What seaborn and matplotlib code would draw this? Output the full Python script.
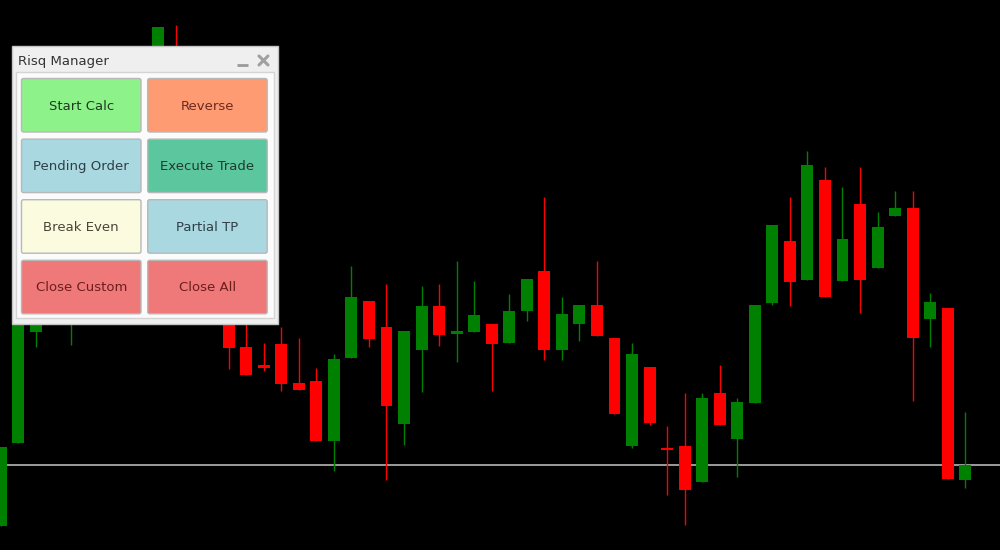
import numpy as np
import pandas as pd
import seaborn as sns
import matplotlib.pyplot as plt
from matplotlib.patches import Rectangle, FancyBboxPatch

# .:: Candle data (chart points; bars 3-12 sit under the panel) ::.
opens = [24, 107, 218, 265, 240, 262, 245, 290, 330, 380,
         500, 420, 360, 290, 203, 185, 206, 167.5, 169, 109,
         192, 249, 223, 126, 200, 244, 216, 218.4, 226, 207.5,
         239.5, 279, 200, 226, 245, 212.5, 104, 183, 101.6, 104,
         68, 157, 111, 147, 247, 309, 270, 370, 269, 346.5,
         282, 334, 342, 231, 242, 70]
highs = [103, 270, 265, 275, 280, 275, 300, 345, 350, 523,
         525, 440, 372, 300, 235, 207, 223, 212.5, 182, 196,
         284, 249, 266.5, 219.5, 264, 266.5, 288.6, 269, 226, 256,
         271, 353, 253, 245, 288.6, 212.5, 207, 183, 123.7, 157,
         157, 185, 152.5, 245, 325, 353, 399, 383, 363, 383,
         338, 359, 359, 257, 242, 138]
lows = [24, 107, 203, 232, 205, 238, 240, 282, 300, 370,
        410, 350, 290, 181, 175, 179, 159, 160, 109, 79,
        192, 203, 70, 105, 158, 204, 188, 218, 159, 207.5,
        229, 190, 190, 209, 214, 136, 102, 125, 54.6, 25,
        68, 125, 73, 147, 245, 244, 270, 253, 269, 237,
        282, 334, 149, 203, 71, 62]
closes = [103, 260, 255, 240, 262, 245, 290, 330, 310, 523,
          420, 360, 300, 202, 175, 182, 166, 160, 109, 191,
          253.5, 211, 144, 219.5, 244, 215, 219.5, 235, 206, 239,
          271, 200, 236, 245, 214, 136, 195.6, 127, 99.8, 60,
          152.5, 125, 148, 245, 325, 268, 385, 253, 311, 270,
          322.6, 342, 212.5, 248, 71, 85]

# .:: Risk manager panel contents ::.
panel_title = "Risq Manager"
button_labels = ["Start Calc", "Reverse", "Pending Order", "Execute Trade",
                 "Break Even", "Partial TP", "Close Custom", "Close All"]
button_colors = ["#8ef28a", "#ff9b72", "#a9d8e1", "#5cc79e",
                 "#fbfbe0", "#a9d8e1", "#ef7878", "#ef7878"]
button_text_colors = ["#1f3a1f", "#6b2a20", "#2f3e44", "#1f3a31",
                      "#4a4438", "#2f3e44", "#6b1e1e", "#6b1e1e"]

sns.set_theme(style="dark", rc={"axes.facecolor": "black", "figure.facecolor": "black"})
plt.rcParams["font.family"] = ["DejaVu Sans"]

df = pd.DataFrame({"open": opens, "high": highs, "low": lows, "close": closes})
df["bar"] = np.arange(len(df))
df["color"] = np.where(df["close"] >= df["open"], "#008000", "#ff0000")
df["body_low"] = df[["open", "close"]].min(axis=1)
df["body_h"] = (df["close"] - df["open"]).abs().clip(lower=2)

fig = plt.figure(figsize=(10, 5.5), dpi=100)
ax = fig.add_axes([0, 0, 1, 1])

# .:: Price line + candles ::.
ax.axhline(closes[-1], color="#9c9c9c", lw=1.4, zorder=1)
ax.vlines(df["bar"], df["low"], df["high"], colors=df["color"], lw=1, zorder=2)
ax.bar(df["bar"], df["body_h"], bottom=df["body_low"], width=0.68,
       color=df["color"], linewidth=0, zorder=3)
ax.set_xlim(-0.034, 56.98)
ax.set_ylim(0, 550)
ax.axis("off")

# .:: Panel overlay (pixel coords) ::.
ui = fig.add_axes([0, 0, 1, 1], zorder=5)
ui.set_xlim(0, 1000)
ui.set_ylim(550, 0)
ui.axis("off")
ui.patch.set_alpha(0)

ui.add_patch(Rectangle((11.5, 45.5), 266, 278, fc="#efefef", ec="#c4c4c4", lw=1))
ui.add_patch(Rectangle((15.5, 72), 258, 246, fc="#fbfbfb", ec="#d4d4d4", lw=1))
ui.text(18, 61, panel_title, fontsize=9.5, color="#333333", va="center", ha="left")
ui.plot([237, 248], [65, 65], color="#9a9a9a", lw=2, solid_capstyle="butt")
ui.plot([259, 268], [56, 65], color="#a0a0a0", lw=2.2)
ui.plot([259, 268], [65, 56], color="#a0a0a0", lw=2.2)

for i, (label, fc, tc) in enumerate(zip(button_labels, button_colors, button_text_colors)):
    row, col = divmod(i, 2)
    x = 21.5 + col * 126.2
    y = 78.5 + row * 60.6
    ui.add_patch(FancyBboxPatch((x, y), 119.5, 53.5, boxstyle="round,pad=0,rounding_size=2",
                                fc=fc, ec="#b8b8b8", lw=1))
    ui.text(x + 59.75, y + 27.5, label, fontsize=9.5, color=tc, ha="center", va="center")

plt.savefig("out.png", dpi=100, facecolor="black")
